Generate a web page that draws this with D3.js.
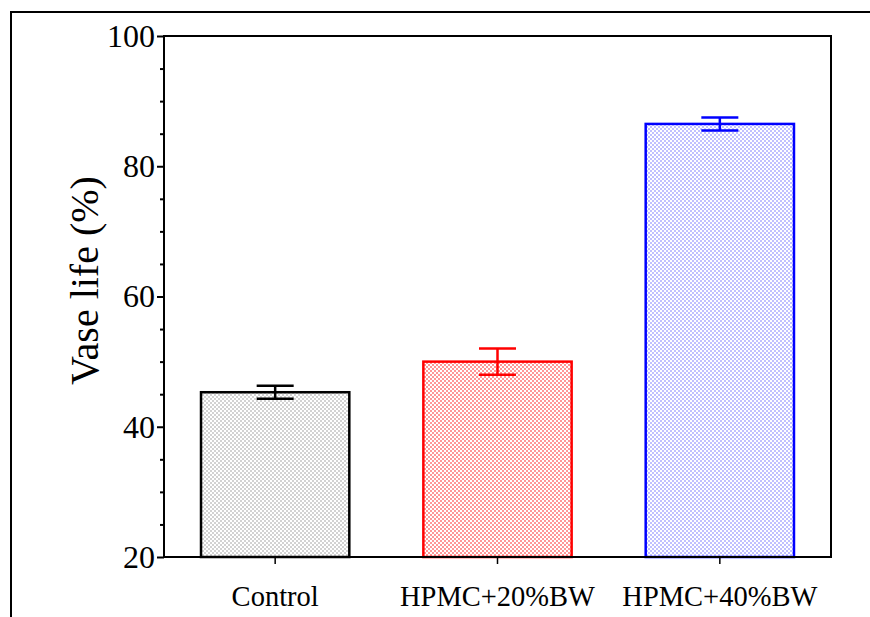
<!DOCTYPE html>
<html><head><meta charset="utf-8">
<script src="https://cdn.jsdelivr.net/npm/d3@7"></script>
<style>body{margin:0;background:#fff}svg{display:block}</style>
</head><body>
<script>
const categories = ["Control", "HPMC+20%BW", "HPMC+40%BW"];
const values = [45.3, 50.0, 86.5];
const errors = [1.0, 2.0, 1.0];
const strokeColors = ["#000000", "#ff0000", "#0000ff"];
const fillColors = ["#d2d2d2", "#ff9696", "#c0c0ff"];
const yTicks = [20, 40, 60, 80, 100];
const yMinorTicks = [25, 30, 35, 45, 50, 55, 65, 70, 75, 85, 90, 95];

const W = 870, H = 617;
const FONT = "Liberation Serif, Times New Roman, serif";
const m = {left: 164, top: 36, right: 831, bottom: 557};
const svg = d3.select("body").append("svg").attr("width", W).attr("height", H);

// outer frame lines
svg.append("line").attr("x1", 10).attr("x2", W).attr("y1", 12).attr("y2", 12).attr("stroke", "#000").attr("stroke-width", 2);
svg.append("line").attr("x1", 11).attr("x2", 11).attr("y1", 12).attr("y2", H).attr("stroke", "#000").attr("stroke-width", 2);

const defs = svg.append("defs");
fillColors.forEach((c, i) => {
  const p = defs.append("pattern").attr("id", "pat" + i).attr("width", 4).attr("height", 4)
    .attr("patternUnits", "userSpaceOnUse");
  p.append("rect").attr("width", 4).attr("height", 4).attr("fill", "#fff");
  p.append("rect").attr("x", 0).attr("y", 0).attr("width", 2).attr("height", 2).attr("fill", c);
  p.append("rect").attr("x", 2).attr("y", 2).attr("width", 2).attr("height", 2).attr("fill", c);
});

const x = d3.scaleBand().domain(categories).range([m.left, m.right]).paddingInner(0.333).paddingOuter(0.1665);
const y = d3.scaleLinear().domain([20, 100]).range([m.bottom, m.top]);

// bars
const g = svg.append("g");
categories.forEach((c, i) => {
  g.append("rect").attr("x", x(c)).attr("y", y(values[i])).attr("width", x.bandwidth())
    .attr("height", y(20) - y(values[i])).attr("fill", `url(#pat${i})`)
    .attr("stroke", strokeColors[i]).attr("stroke-width", 2.5);
  const cx = x(c) + x.bandwidth() / 2;
  const eg = g.append("g").attr("stroke", strokeColors[i]).attr("stroke-width", 2.5);
  eg.append("line").attr("x1", cx).attr("x2", cx).attr("y1", y(values[i] + errors[i])).attr("y2", y(values[i] - errors[i]));
  eg.append("line").attr("x1", cx - 18.5).attr("x2", cx + 18.5).attr("y1", y(values[i] + errors[i])).attr("y2", y(values[i] + errors[i]));
  eg.append("line").attr("x1", cx - 18.5).attr("x2", cx + 18.5).attr("y1", y(values[i] - errors[i])).attr("y2", y(values[i] - errors[i]));
});

// plot frame
svg.append("rect").attr("x", m.left).attr("y", m.top).attr("width", m.right - m.left).attr("height", m.bottom - m.top)
  .attr("fill", "none").attr("stroke", "#000").attr("stroke-width", 2);

// y axis
const ya = svg.append("g").attr("transform", `translate(${m.left},0)`)
  .call(d3.axisLeft(y).tickValues(yTicks).tickSize(7).tickPadding(2).tickFormat(d3.format("d")));
ya.attr("font-family", FONT).attr("font-size", 32);
ya.select(".domain").remove();
ya.selectAll("line").attr("stroke-width", 2);
ya.selectAll("text").attr("fill", "#000");
const ym = svg.append("g").attr("transform", `translate(${m.left},0)`)
  .call(d3.axisLeft(y).tickValues(yMinorTicks).tickSize(4).tickFormat(""));
ym.select(".domain").remove();
ym.selectAll("line").attr("stroke-width", 2);

// x axis
const xa = svg.append("g").attr("transform", `translate(0,${m.bottom})`)
  .call(d3.axisBottom(x).tickSize(7).tickPadding(22));
xa.attr("font-family", FONT).attr("font-size", 28.5);
xa.select(".domain").remove();
xa.selectAll("line").attr("stroke-width", 1.5);
xa.selectAll("text").attr("fill", "#000");

// y label
svg.append("text").attr("transform", `translate(98,${(m.top + m.bottom) / 2 - 16}) rotate(-90)`)
  .attr("text-anchor", "middle").attr("font-family", FONT).attr("font-size", 40).text("Vase life (%)");
</script>
</body></html>
